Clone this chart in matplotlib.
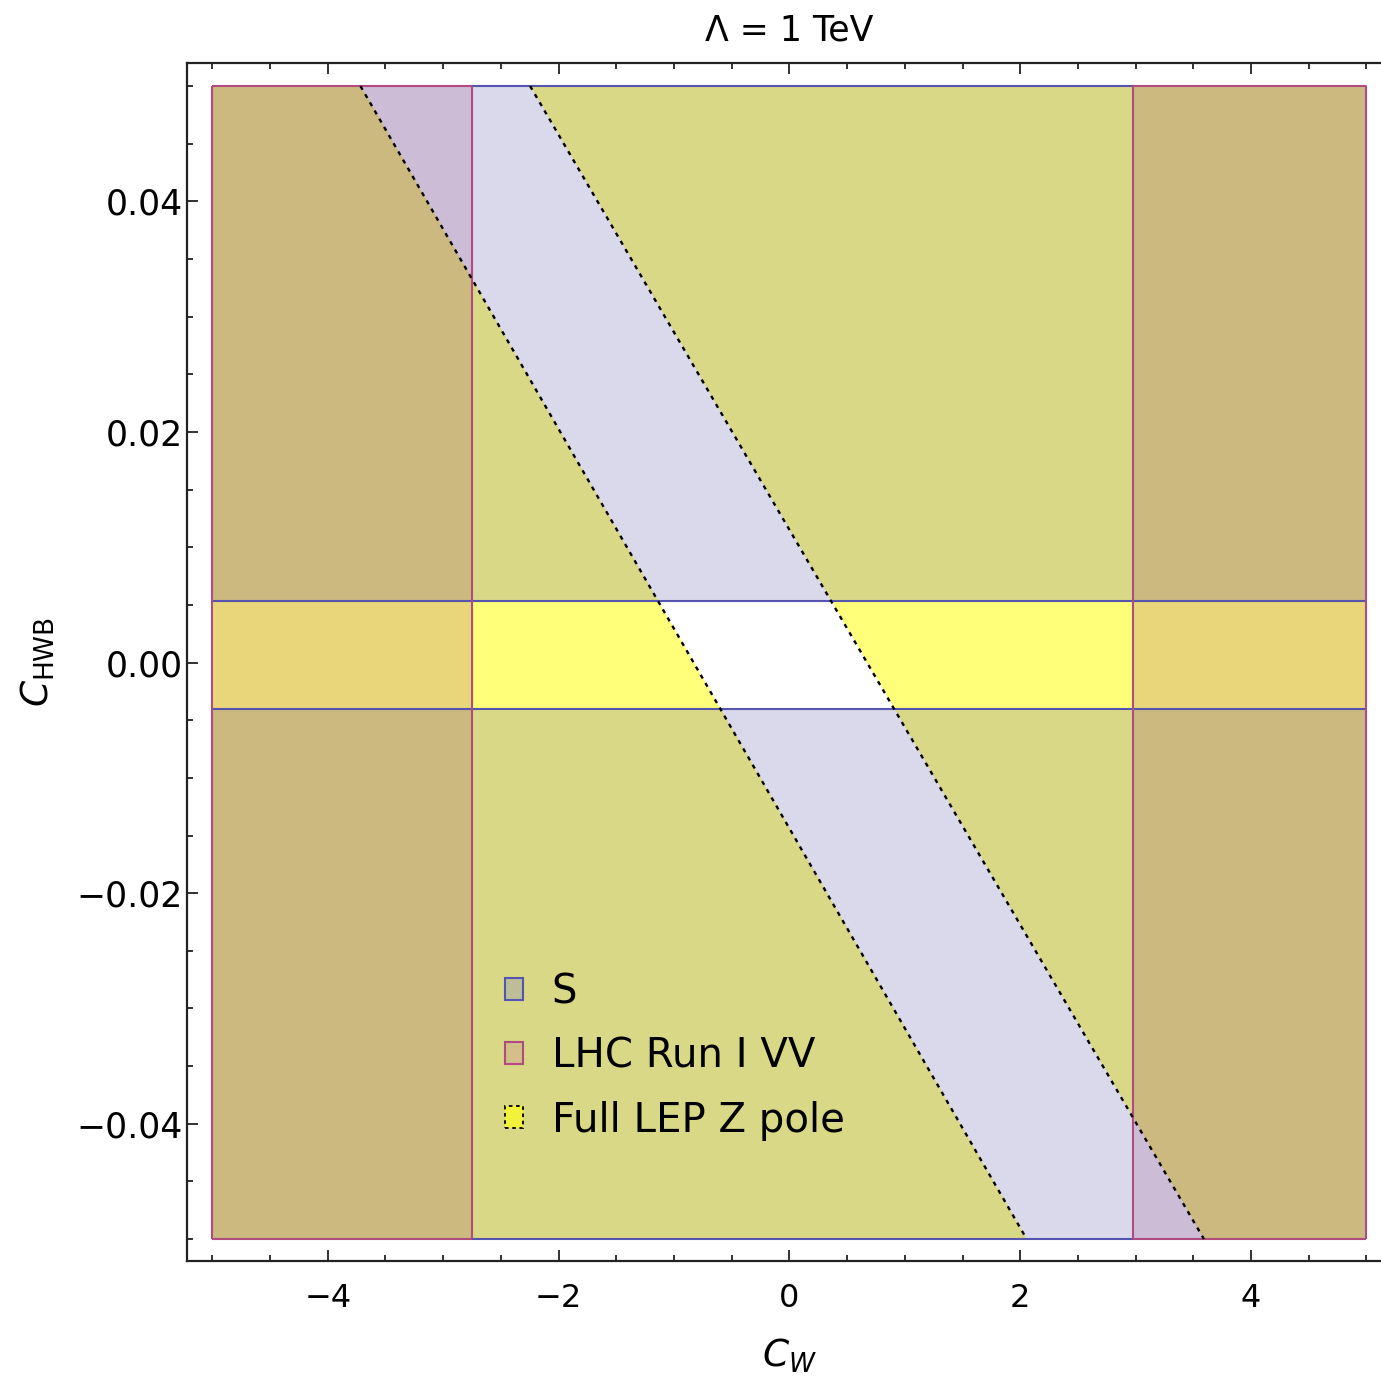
import numpy as np
import matplotlib
matplotlib.use("Agg")
import matplotlib.pyplot as plt
from matplotlib.colors import ListedColormap
from matplotlib.patches import Patch
from matplotlib.ticker import MultipleLocator, FuncFormatter

# Plot window
cw_range = [-5.0, 5.0]
chwb_range = [-0.05, 0.05]

# LHC Run I VV allowed strip in C_W
cw_lhc = [-2.75, 2.98]
# S allowed band in C_HWB
chwb_s = [-0.0040, 0.0053]
# Full LEP Z pole allowed band: C_W of each edge at C_HWB = +0.05 and -0.05
lep_edge_chwb = [0.05, -0.05]
lep_left_cw = [-3.717, 2.056]
lep_right_cw = [-2.247, 3.592]

legend_labels = ["S", "LHC Run I VV", "Full LEP Z pole"]

# Colours of the overlapping excluded regions (bit 1: S, bit 2: LEP, bit 4: LHC)
region_colors = ["#FFFFFF", "#D9D9EB", "#FFFF7A", "#D9D886",
                 "#EFD9E3", "#CDBCD6", "#E9D67A", "#CBB97F"]
s_line = "#5555B0"
lhc_line = "#B04C80"

fig = plt.figure(figsize=(13.81, 13.76), dpi=100)
ax = fig.add_axes([0.13541, 0.08358, 0.87242, 0.87064])

# Region map on a fine grid
n = 2400
cw = np.linspace(cw_range[0], cw_range[1], n)
ch = np.linspace(chwb_range[0], chwb_range[1], n)
CW, CH = np.meshgrid(cw, ch)

def edge_cw(edge, chwb):
    return np.interp(chwb, lep_edge_chwb[::-1], edge[::-1])

s_out = (CH < chwb_s[0]) | (CH > chwb_s[1])
lep_out = (CW < edge_cw(lep_left_cw, CH)) | (CW > edge_cw(lep_right_cw, CH))
lhc_out = (CW < cw_lhc[0]) | (CW > cw_lhc[1])
code = s_out.astype(int) + 2 * lep_out.astype(int) + 4 * lhc_out.astype(int)

ax.imshow(code, origin="lower", extent=[cw_range[0], cw_range[1], chwb_range[0], chwb_range[1]],
          cmap=ListedColormap(region_colors), vmin=-0.5, vmax=7.5,
          interpolation="nearest", aspect="auto", zorder=1)

# S band boundaries and outline
ax.hlines(chwb_s, cw_range[0], cw_range[1], color=s_line, lw=1.5, zorder=3)
ax.hlines(chwb_range, cw_lhc[0], cw_lhc[1], color=s_line, lw=1.5, zorder=3)

# LHC strip boundaries and outline of the excluded side regions
ax.vlines(cw_lhc + cw_range, chwb_range[0], chwb_range[1], color=lhc_line, lw=1.5, zorder=4)
ax.hlines(chwb_range, cw_range[0], cw_lhc[0], color=lhc_line, lw=1.5, zorder=4)
ax.hlines(chwb_range, cw_lhc[1], cw_range[1], color=lhc_line, lw=1.5, zorder=4)

# LEP band edges
for edge in (lep_left_cw, lep_right_cw):
    ax.plot(edge, lep_edge_chwb, color="black", lw=1.7, linestyle=(0, (1.8, 2.2)), zorder=5)

ax.set_xlim(-5.22, 5.22)
ax.set_ylim(-0.0519, 0.0520)

ax.xaxis.set_major_locator(MultipleLocator(2))
ax.xaxis.set_minor_locator(MultipleLocator(0.5))
ax.yaxis.set_major_locator(MultipleLocator(0.02))
ax.yaxis.set_minor_locator(MultipleLocator(0.005))
ax.xaxis.set_major_formatter(FuncFormatter(lambda v, p: f"{v:.0f}".replace("-", "\u2212")))
ax.yaxis.set_major_formatter(FuncFormatter(lambda v, p: f"{v:.2f}".replace("-", "\u2212")))

ax.tick_params(which="both", direction="in", top=True, right=True, width=1.3, color="#222222")
ax.tick_params(which="major", length=8)
ax.tick_params(which="minor", length=4)
ax.tick_params(axis="x", which="major", labelsize=23, pad=16)
ax.tick_params(axis="y", which="major", labelsize=25, pad=3)
for sp in ax.spines.values():
    sp.set_linewidth(1.6)
    sp.set_color("#222222")

ax.set_xlabel(r"$C_W$", fontsize=27, labelpad=16)
ax.set_ylabel(r"$C_{\mathrm{HWB}}$", fontsize=27, labelpad=14)
ax.set_title("\u039b = 1 TeV", fontsize=25, pad=16)

handles = [
    Patch(facecolor="#BDBE97", edgecolor=s_line, lw=1.5),
    Patch(facecolor="#D3BF8A", edgecolor=lhc_line, lw=1.5),
    Patch(facecolor="#F2F23C", edgecolor="black", lw=1.3, linestyle=(0, (2, 2))),
]
ax.legend(handles, legend_labels, loc="upper left", bbox_to_anchor=(0.2637, 0.241),
          frameon=False, fontsize=29, handlelength=0.45, handleheight=0.45,
          handletextpad=0.72, labelspacing=0.60, borderpad=0, borderaxespad=0)

fig.savefig("out.png", dpi=100)
